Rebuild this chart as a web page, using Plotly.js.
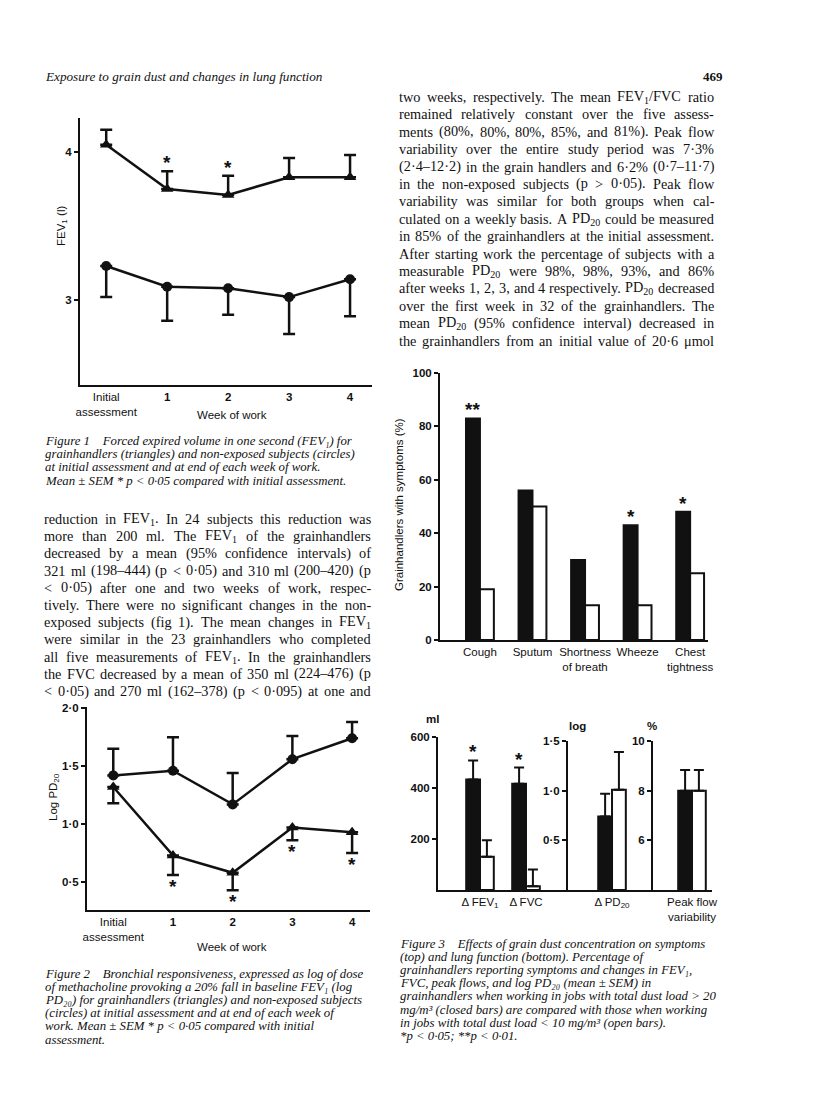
<!DOCTYPE html>
<html>
<head>
<meta charset="utf-8">
<script src="https://cdn.plot.ly/plotly-3.0.1.min.js"></script>
<style>
  html, body { margin: 0; padding: 0; background: #fff; }
  #page { width: 816px; height: 1112px; }
</style>
</head>
<body>
<div id="page"></div>
<script>
// ---- data ----
// Figure 1: FEV1 (l), mean and SEM
const weeks = ['Initial<br>assessment', '1', '2', '3', '4'];
const weekLabels = ['Initial<br>assessment', '<b>1</b>', '<b>2</b>', '<b>3</b>', '<b>4</b>'];
const fev1Grain = [4.05, 3.75, 3.71, 3.83, 3.83];
const fev1GrainSem = [0.10, 0.12, 0.13, 0.13, 0.15];
const fev1Control = [3.23, 3.09, 3.08, 3.02, 3.14];
const fev1ControlSem = [0.21, 0.23, 0.18, 0.25, 0.25];
const fev1Sig = ['', '*', '*', '', ''];
const fev1Ticks = [3, 4];
const fev1TickText = ['3', '4'];

// Figure 2: log PD20, mean and SEM
const pdGrain = [1.32, 0.73, 0.58, 0.97, 0.93];
const pdGrainSem = [0.14, 0.17, 0.15, 0.11, 0.18];
const pdControl = [1.42, 1.46, 1.17, 1.56, 1.74];
const pdControlSem = [0.23, 0.29, 0.27, 0.20, 0.14];
const pdSig = ['', '*', '*', '*', '*'];
const pdTicks = [0.5, 1.0, 1.5, 2.0];
const pdTickText = ['0·5', '1·0', '1·5', '2·0'];

// Figure 3 (top): % of grainhandlers with symptoms
const symptoms = ['Cough', 'Sputum', 'Shortness<br>of breath', 'Wheeze', 'Chest<br>tightness'];
const symptomsHigh = [83, 56, 30, 43, 48];
const symptomsLow = [19, 50, 13, 13, 25];
const symptomsSig = ['**', '', '', '*', '*'];
const symptomTicks = [0, 20, 40, 60, 80, 100];

// Figure 3 (bottom): lung function, high vs low dust load
const volumeTests = ['Δ FEV<sub>1</sub>', 'Δ FVC'];
const volumeHigh = [433, 417];
const volumeHighSem = [75, 63];
const volumeLow = [130, 15];
const volumeLowSem = [65, 65];
const volumeSig = ['*', '*'];
const volumeTicks = [200, 400, 600];

const pdTest = ['Δ PD<sub>20</sub>'];
const pdHigh = [0.74];
const pdHighSem = [0.23];
const pdLow = [1.01];
const pdLowSem = [0.38];
const pdLogTicks = [0.5, 1.0, 1.5];
const pdLogTickText = ['0·5', '1·0', '1·5'];

const peakTest = ['Peak flow<br>variability'];
const peakHigh = [8.0];
const peakHighSem = [0.83];
const peakLow = [8.0];
const peakLowSem = [0.83];
const peakTicks = [6, 8, 10];

// ---- page text ----
const header = 'Exposure to grain dust and changes in lung function';
const pageNo = '469';

const fig1Caption = [
  'Figure 1\u2003Forced expired volume in one second (FEV₁) for',
  'grainhandlers (triangles) and non-exposed subjects (circles)',
  'at initial assessment and at end of each week of work.',
  'Mean ± SEM * p &lt; 0·05 compared with initial assessment.'
];
const leftBody = [
  'reduction in FEV<sub>1</sub>. In 24 subjects this reduction was',
  'more than 200 ml. The FEV<sub>1</sub> of the grainhandlers',
  'decreased by a mean (95% confidence intervals) of',
  '321 ml (198–444) (p &lt; 0·05) and 310 ml (200–420) (p',
  '&lt; 0·05) after one and two weeks of work, respec-',
  'tively. There were no significant changes in the non-',
  'exposed subjects (fig 1). The mean changes in FEV<sub>1</sub>',
  'were similar in the 23 grainhandlers who completed',
  'all five measurements of FEV<sub>1</sub>. In the grainhandlers',
  'the FVC decreased by a mean of 350 ml (224–476) (p',
  '&lt; 0·05) and 270 ml (162–378) (p &lt; 0·095) at one and'
];
const rightBody = [
  'two weeks, respectively. The mean FEV<sub>1</sub>/FVC ratio',
  'remained relatively constant over the five assess-',
  'ments (80%, 80%, 80%, 85%, and 81%). Peak flow',
  'variability over the entire study period was 7·3%',
  '(2·4–12·2) in the grain handlers and 6·2% (0·7–11·7)',
  'in the non-exposed subjects (p &gt; 0·05). Peak flow',
  'variability was similar for both groups when cal-',
  'culated on a weekly basis. A PD<sub>20</sub> could be measured',
  'in 85% of the grainhandlers at the initial assessment.',
  'After starting work the percentage of subjects with a',
  'measurable PD<sub>20</sub> were 98%, 98%, 93%, and 86%',
  'after weeks 1, 2, 3, and 4 respectively. PD<sub>20</sub> decreased',
  'over the first week in 32 of the grainhandlers. The',
  'mean PD<sub>20</sub> (95% confidence interval) decreased in',
  'the grainhandlers from an initial value of 20·6 μmol'
];
const fig2Caption = [
  'Figure 2\u2003Bronchial responsiveness, expressed as log of dose',
  'of methacholine provoking a 20% fall in baseline FEV₁ (log',
  'PD₂₀) for grainhandlers (triangles) and non-exposed subjects',
  '(circles) at initial assessment and at end of each week of',
  'work. Mean ± SEM * p &lt; 0·05 compared with initial',
  'assessment.'
];
const fig3Caption = [
  'Figure 3\u2003Effects of grain dust concentration on symptoms',
  '(top) and lung function (bottom). Percentage of',
  'grainhandlers reporting symptoms and changes in FEV₁,',
  'FVC, peak flows, and log PD₂₀ (mean ± SEM) in',
  'grainhandlers when working in jobs with total dust load &gt; 20',
  'mg/m³ (closed bars) are compared with those when working',
  'in jobs with total dust load &lt; 10 mg/m³ (open bars).',
  '*p &lt; 0·05; **p &lt; 0·01.'
];

// ---- page geometry (pixels on the 816 x 1112 page) ----
const W = 816, H = 1112;
const px = v => v / W;
const py = v => 1 - v / H;
const hdom = (l, r) => [l / W, r / W];
const vdom = (top, bottom) => [1 - bottom / H, 1 - top / H];

const INK = '#111';
const SANS = 'Liberation Sans, Arial, sans-serif';
const SERIF = 'Liberation Serif, Times New Roman, serif';

function yAxis(extra) {
  return Object.assign({
    showline: true, linecolor: INK, linewidth: 2,
    showgrid: false, zeroline: false,
    ticks: 'outside', ticklen: 4, tickwidth: 2, tickcolor: INK,
    tickfont: { family: SANS, size: 11.5, color: INK, weight: 'bold' },
    fixedrange: true
  }, extra);
}
function xAxis(extra) {
  return Object.assign({
    type: 'category',
    showline: true, linecolor: INK, linewidth: 2,
    showgrid: false, zeroline: false, ticks: '',
    tickfont: { family: SANS, size: 11.5, color: INK },
    fixedrange: true
  }, extra);
}

const zeros = n => new Array(n).fill(0);
function upErr(sem) {
  return { type: 'data', symmetric: false, array: sem, arrayminus: zeros(sem.length), color: INK, thickness: 2.5, width: 6 };
}
function downErr(sem) {
  return { type: 'data', symmetric: false, array: zeros(sem.length), arrayminus: sem, color: INK, thickness: 2.5, width: 6 };
}
function lineTrace(x, y, symbol, size, err, xa, ya) {
  return {
    x: x, y: y, xaxis: xa, yaxis: ya, type: 'scatter', mode: 'lines+markers',
    line: { color: INK, width: 2.5 },
    marker: { symbol: symbol, size: size, color: INK },
    error_y: err, hoverinfo: 'skip'
  };
}

// bar width in category units for each chart (bars are ~14 px wide)
const BW_SYM = 0.265;
const BW_LF = 0.30;
function barPair(x, high, low, highSem, lowSem, bw, xa, ya) {
  const hi = {
    x: x, y: high, xaxis: xa, yaxis: ya, type: 'bar', offset: -bw, width: bw,
    marker: { color: INK, line: { color: INK, width: 2 } }, hoverinfo: 'skip'
  };
  const lo = {
    x: x, y: low, xaxis: xa, yaxis: ya, type: 'bar', offset: 0, width: bw,
    marker: { color: '#fff', line: { color: INK, width: 2 } }, hoverinfo: 'skip'
  };
  if (highSem) { hi.error_y = Object.assign(upErr(highSem), { thickness: 2, width: 5 }); }
  if (lowSem) { lo.error_y = Object.assign(upErr(lowSem), { thickness: 2, width: 5 }); }
  return [hi, lo];
}

const data = [
  lineTrace(weeks, fev1Grain, 'triangle-up', 11, upErr(fev1GrainSem), 'x', 'y'),
  lineTrace(weeks, fev1Control, 'circle', 10, downErr(fev1ControlSem), 'x', 'y'),
  lineTrace(weeks, pdGrain, 'triangle-up', 11, downErr(pdGrainSem), 'x2', 'y2'),
  lineTrace(weeks, pdControl, 'circle', 10, upErr(pdControlSem), 'x2', 'y2'),
  ...barPair(symptoms, symptomsHigh, symptomsLow, null, null, BW_SYM, 'x3', 'y3'),
  ...barPair(volumeTests, volumeHigh, volumeLow, volumeHighSem, volumeLowSem, BW_LF, 'x4', 'y4'),
  ...barPair(pdTest, pdHigh, pdLow, pdHighSem, pdLowSem, BW_LF, 'x5', 'y5'),
  ...barPair(peakTest, peakHigh, peakLow, peakHighSem, peakLowSem, BW_LF, 'x6', 'y6')
];

// ---- annotations ----
const annotations = [];
function pageText(text, x, y, font, opts) {
  annotations.push(Object.assign({
    xref: 'paper', yref: 'paper', x: px(x), y: py(y),
    xanchor: 'left', yanchor: 'middle', showarrow: false, align: 'left',
    text: text, font: font
  }, opts || {}));
}
function textBlock(lines, x, y0, dy, font) {
  lines.forEach((t, i) => pageText(t, x, y0 + i * dy, font));
}

// justified body text: words are measured and spread over the column width
const ctx = document.createElement('canvas').getContext('2d');
function wordWidth(word, size) {
  let w = 0;
  word.split(/(<sub>.*?<\/sub>)/).forEach(part => {
    if (!part) return;
    const m = part.match(/^<sub>(.*)<\/sub>$/);
    ctx.font = (m ? size * 0.7 : size) + 'px "Liberation Serif"';
    w += ctx.measureText((m ? m[1] : part).replace(/&lt;/g, '<').replace(/&gt;/g, '>')).width;
  });
  return w;
}
function justified(lines, x0, width, y0, dy, font) {
  lines.forEach((line, i) => {
    const words = line.split(' ');
    const widths = words.map(w => wordWidth(w, font.size));
    const used = widths.reduce((a, b) => a + b, 0);
    const gap = Math.max((width - used) / (words.length - 1), font.size * 0.2);
    let x = x0;
    words.forEach((w, j) => {
      pageText(w, x, y0 + i * dy, font, { borderpad: 0 });
      x += widths[j] + gap;
    });
  });
}

const bodyFont = { family: SERIF, size: 14.3, color: INK };
const capFont = { family: SERIF, size: 12.8, color: INK, style: 'italic' };
const labFont = { family: SANS, size: 11.5, color: INK };
const unitFont = { family: SANS, size: 11.5, color: INK, weight: 'bold' };
const starFont = { family: SANS, size: 19, color: INK, weight: 'bold' };

pageText(header, 43, 76, { family: SERIF, size: 13.2, color: INK, style: 'italic' });
pageText(pageNo, 725, 76, { family: SERIF, size: 13, color: INK, weight: 'bold' }, { xanchor: 'right' });

textBlock(fig1Caption, 43, 441, 13.2, capFont);
justified(leftBody, 43, 327, 519, 17.2, bodyFont);
justified(rightBody, 398, 315, 97, 17.4, bodyFont);
textBlock(fig2Caption, 43, 974, 13.1, capFont);
textBlock(fig3Caption, 398, 944, 13.1, capFont);

// axis titles and unit labels
pageText('FEV<sub>1</sub> (l)', 62, 226, labFont, { xanchor: 'center', textangle: -90 });
pageText('Week of work', 232, 415, labFont, { xanchor: 'center' });
pageText('Log PD<sub>20</sub>', 54, 797, labFont, { xanchor: 'center', textangle: -90 });
pageText('Week of work', 232, 947, labFont, { xanchor: 'center' });
pageText('Grainhandlers with symptoms (%)', 399, 505, labFont, { xanchor: 'center', textangle: -90 });
pageText('ml', 432, 719, unitFont, { xanchor: 'center' });
pageText('log', 577, 726, unitFont, { xanchor: 'center' });
pageText('%', 652, 726, unitFont, { xanchor: 'center' });

// significance stars, placed from the data
function starsAbove(sig, vals, sem, dx, xa, ya) {
  sig.forEach((s, i) => {
    if (!s) return;
    annotations.push({
      xref: xa, yref: ya, x: i + dx, y: vals[i] + (sem ? sem[i] : 0),
      yanchor: 'bottom', yshift: -4, showarrow: false, text: s, font: starFont
    });
  });
}
function starsBelow(sig, vals, sem, xa, ya) {
  sig.forEach((s, i) => {
    if (!s) return;
    annotations.push({
      xref: xa, yref: ya, x: i, y: vals[i] - sem[i],
      yanchor: 'top', yshift: 1, showarrow: false, text: s, font: starFont
    });
  });
}
starsAbove(fev1Sig, fev1Grain, fev1GrainSem, 0, 'x', 'y');
starsBelow(pdSig, pdGrain, pdGrainSem, 'x2', 'y2');
starsAbove(symptomsSig, symptomsHigh, null, -BW_SYM / 2, 'x3', 'y3');
starsAbove(volumeSig, volumeHigh, volumeHighSem, -BW_LF / 2, 'x4', 'y4');

const layout = {
  width: W, height: H,
  margin: { l: 0, r: 0, t: 0, b: 0 },
  paper_bgcolor: '#fff', plot_bgcolor: 'rgba(0,0,0,0)',
  showlegend: false, barmode: 'overlay',
  font: { family: SANS, color: INK },

  // Figure 1
  xaxis: xAxis({ domain: hdom(80, 372), anchor: 'y', range: [-0.43, 4.36],
    tickmode: 'array', tickvals: weeks, ticktext: weekLabels }),
  yaxis: yAxis({ domain: vdom(118, 385), anchor: 'x', range: [2.426, 4.23],
    tickmode: 'array', tickvals: fev1Ticks, ticktext: fev1TickText }),

  // Figure 2
  xaxis2: xAxis({ domain: hdom(87, 370), anchor: 'y2', range: [-0.44, 4.3],
    tickmode: 'array', tickvals: weeks, ticktext: weekLabels }),
  yaxis2: yAxis({ domain: vdom(707, 910), anchor: 'x2', range: [0.259, 2.01],
    tickmode: 'array', tickvals: pdTicks, ticktext: pdTickText }),

  // Figure 3 top
  xaxis3: xAxis({ domain: hdom(440, 708), anchor: 'y3', range: [-0.76, 4.34] }),
  yaxis3: yAxis({ domain: vdom(373, 640), anchor: 'x3', range: [0, 100],
    tickmode: 'array', tickvals: symptomTicks }),

  // Figure 3 bottom
  xaxis4: xAxis({ domain: hdom(438, 568), anchor: 'y4', range: [-0.913, 1.913] }),
  yaxis4: yAxis({ domain: vdom(737, 890), anchor: 'x4', range: [0, 600],
    tickmode: 'array', tickvals: volumeTicks }),
  xaxis5: xAxis({ domain: hdom(568, 653), anchor: 'y5', range: [-0.957, 0.891] }),
  yaxis5: yAxis({ domain: vdom(741, 890), anchor: 'x5', range: [0, 1.5],
    tickmode: 'array', tickvals: pdLogTicks, ticktext: pdLogTickText }),
  xaxis6: xAxis({ domain: hdom(653, 712), anchor: 'y6', range: [-0.848, 0.435] }),
  yaxis6: yAxis({ domain: vdom(741, 890), anchor: 'x6', range: [4, 10],
    tickmode: 'array', tickvals: peakTicks }),

  annotations: annotations
};

Plotly.newPlot('page', data, layout, { displayModeBar: false, staticPlot: true });
</script>
</body>
</html>
